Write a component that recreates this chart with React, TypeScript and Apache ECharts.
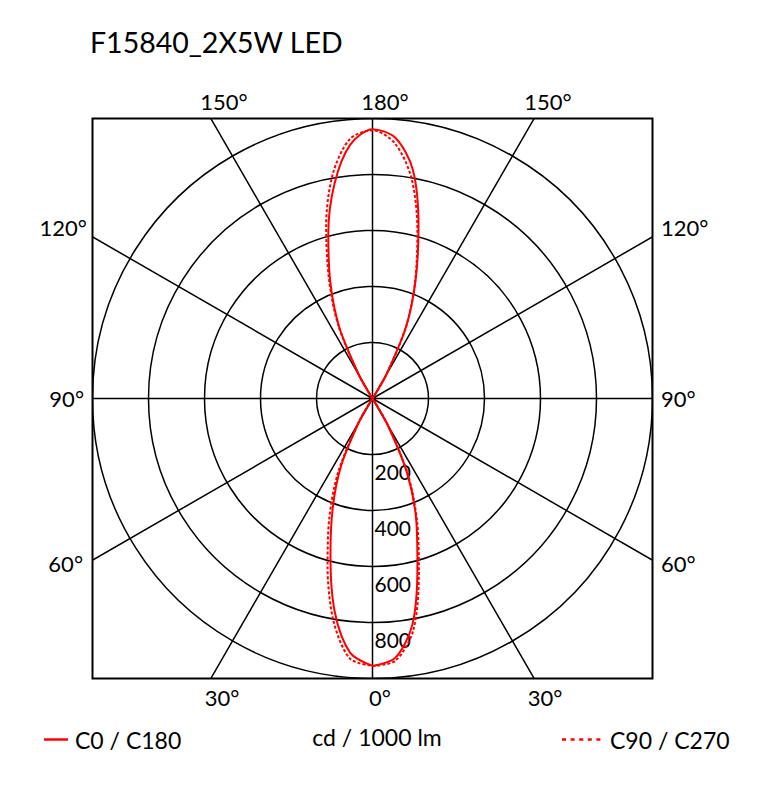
import React, { useEffect, useRef } from 'react';
import * as echarts from 'echarts';

// gamma angles (deg) of the photometric data, 0 = straight down
const gammaAngles = [
  0, 5, 10, 15, 20, 25, 30, 35, 40, 45, 50, 55, 60, 65, 70, 75, 80, 85, 90,
  95, 100, 105, 110, 115, 120, 125, 130, 135, 140, 145, 150, 155, 160, 165, 170, 175, 180,
];

// cd / 1000 lm, one value per gamma angle
const c0Values = [
  955, 930, 820, 620, 455, 290, 105, 10, 0, 0, 0, 0, 0, 0, 0, 0, 0, 0, 0,
  0, 0, 0, 0, 0, 0, 0, 0, 0, 0, 10, 100, 285, 450, 635, 830, 935, 962,
];
const c180Values = [
  955, 912, 775, 580, 415, 265, 95, 8, 0, 0, 0, 0, 0, 0, 0, 0, 0, 0, 0,
  0, 0, 0, 0, 0, 0, 0, 0, 0, 0, 8, 95, 280, 440, 610, 780, 910, 962,
];
const c90Values = [
  955, 940, 840, 640, 465, 300, 110, 10, 0, 0, 0, 0, 0, 0, 0, 0, 0, 0, 0,
  0, 0, 0, 0, 0, 0, 0, 0, 0, 0, 10, 100, 285, 445, 620, 800, 915, 958,
];
const c270Values = [
  955, 932, 805, 620, 450, 290, 105, 10, 0, 0, 0, 0, 0, 0, 0, 0, 0, 0, 0,
  0, 0, 0, 0, 0, 0, 0, 0, 0, 0, 10, 100, 290, 455, 640, 815, 930, 958,
];

const radiusMax = 1000;
const radiusStep = 200;
const angleStep = 30;

const topLabels = ['150°', '180°', '150°'];
const sideLabels = ['120°', '90°', '60°'];
const bottomLabels = ['30°', '0°', '30°'];

const chartTitle = 'F15840_2X5W LED';
const unitLabel = 'cd / 1000 lm';
const seriesNames = ['C0 / C180', 'C90 / C270'];

const FONT = 'Lato, "Noto Sans", sans-serif';
const RED = '#ff0000';
const DOTS: number[] = [3, 2];

// right half uses the first plane, left half the opposite plane
const closedCurve = (right: number[], left: number[]) => {
  const pts: [number, number][] = gammaAngles.map((g, i) => [right[i], g]);
  for (let i = gammaAngles.length - 1; i >= 0; i--) {
    pts.push([left[i], 360 - gammaAngles[i]]);
  }
  return pts;
};

const PolarDiagram: React.FC = () => {
  const chartRef = useRef<HTMLDivElement>(null);

  useEffect(() => {
    if (!chartRef.current) return;
    const chart = echarts.init(chartRef.current, undefined, { renderer: 'svg' });

    const cx = 372.5;
    const cy = 398.5;
    const half = 280;
    const left = cx - half;
    const top = cy - half;
    const right = cx + half;
    const bottom = cy + half;

    const txt = (text: string, x: number, y: number, size: number, align = 'center') => ({
      type: 'text',
      z: 110,
      style: {
        text,
        x,
        y,
        fill: '#000',
        font: `${size}px ${FONT}`,
        textAlign: align,
        textVerticalAlign: 'middle',
        align,
        verticalAlign: 'middle',
      },
    });

    const mask = (x: number, y: number, width: number, height: number) => ({
      type: 'rect',
      z: 100,
      shape: { x, y, width, height },
      style: { fill: '#fff' },
    });

    // legend key: short red stroke, solid or dotted
    const key = (x1: number, x2: number, y: number, dash?: number[]) => ({
      type: 'line',
      z: 110,
      shape: { x1, y1: y, x2, y2: y },
      style: { stroke: RED, lineWidth: 2.5, lineDash: dash },
    });

    const option: echarts.EChartsOption = {
      animation: false,
      backgroundColor: '#fff',
      polar: [
        { center: [cx, cy], radius: half },
        { center: [cx, cy], radius: half * Math.SQRT2 + 4 },
      ],
      angleAxis: [
        {
          polarIndex: 0,
          type: 'value',
          min: 0,
          max: 360,
          interval: angleStep,
          startAngle: 270,
          clockwise: false,
          axisLine: { show: false },
          axisTick: { show: false },
          axisLabel: { show: false },
          splitLine: { show: false },
        },
        {
          polarIndex: 1,
          type: 'value',
          min: 0,
          max: 360,
          interval: angleStep,
          startAngle: 270,
          clockwise: false,
          axisLine: { show: false },
          axisTick: { show: false },
          axisLabel: { show: false },
          splitLine: { show: true, lineStyle: { color: '#000', width: 1.5 } },
        },
      ],
      radiusAxis: [
        {
          polarIndex: 0,
          type: 'value',
          min: 0,
          max: radiusMax,
          interval: radiusStep,
          axisLine: { show: false },
          axisTick: { show: false },
          axisLabel: {
            show: true,
            fontFamily: FONT,
            fontSize: 21,
            color: '#000',
            margin: 2,
            align: 'left',
            verticalAlign: 'top',
            padding: [6, 0, 0, 0],
            formatter: (v: number) => (v > 0 && v < radiusMax ? String(v) : ''),
          },
          splitLine: { show: true, lineStyle: { color: '#000', width: 1.5 } },
        },
        {
          polarIndex: 1,
          type: 'value',
          min: 0,
          max: 1,
          show: false,
        },
      ],
      graphic: [
        mask(0, 0, 780, top),
        mask(0, bottom, 780, 807 - bottom),
        mask(0, top, left, bottom - top),
        mask(right, top, 780 - right, bottom - top),
        {
          type: 'rect',
          z: 110,
          shape: { x: left, y: top, width: half * 2, height: half * 2 },
          style: { fill: 'none', stroke: '#000', lineWidth: 2 },
        },
        txt(chartTitle, 90, 42, 28.5, 'left'),
        txt(topLabels[0], 224, 101, 22),
        txt(topLabels[1], 385, 101, 22),
        txt(topLabels[2], 548, 101, 22),
        txt(sideLabels[0], 87, 227, 22, 'right'),
        txt(sideLabels[1], 84, 398, 22, 'right'),
        txt(sideLabels[2], 83, 563, 22, 'right'),
        txt(sideLabels[0], 661, 227, 22, 'left'),
        txt(sideLabels[1], 661, 398, 22, 'left'),
        txt(sideLabels[2], 661, 563, 22, 'left'),
        txt(bottomLabels[0], 222, 697, 22),
        txt(bottomLabels[1], 380, 697, 22),
        txt(bottomLabels[2], 545, 697, 22),
        txt(unitLabel, 377, 737, 23),
        key(44, 68, 739.5),
        txt(seriesNames[0], 75, 740, 23, 'left'),
        key(562, 605, 739.5, [4, 4.6]),
        txt(seriesNames[1], 610, 740, 23, 'left'),
      ] as any,
      series: [
        {
          name: seriesNames[0],
          type: 'line',
          coordinateSystem: 'polar',
          polarIndex: 0,
          symbol: 'none',
          smooth: 0.3,
          lineStyle: { color: RED, width: 2 },
          data: closedCurve(c0Values, c180Values),
        },
        {
          name: seriesNames[1],
          type: 'line',
          coordinateSystem: 'polar',
          polarIndex: 0,
          symbol: 'none',
          smooth: 0.3,
          lineStyle: { color: RED, width: 2, type: DOTS },
          data: closedCurve(c90Values, c270Values),
        },
      ],
    };

    chart.setOption(option);
    return () => chart.dispose();
  }, []);

  return (
    <div
      ref={chartRef}
      style={{ position: 'absolute', left: 0, top: 0, width: 780, height: 807 }}
    />
  );
};

export default function App() {
  return <PolarDiagram />;
}
